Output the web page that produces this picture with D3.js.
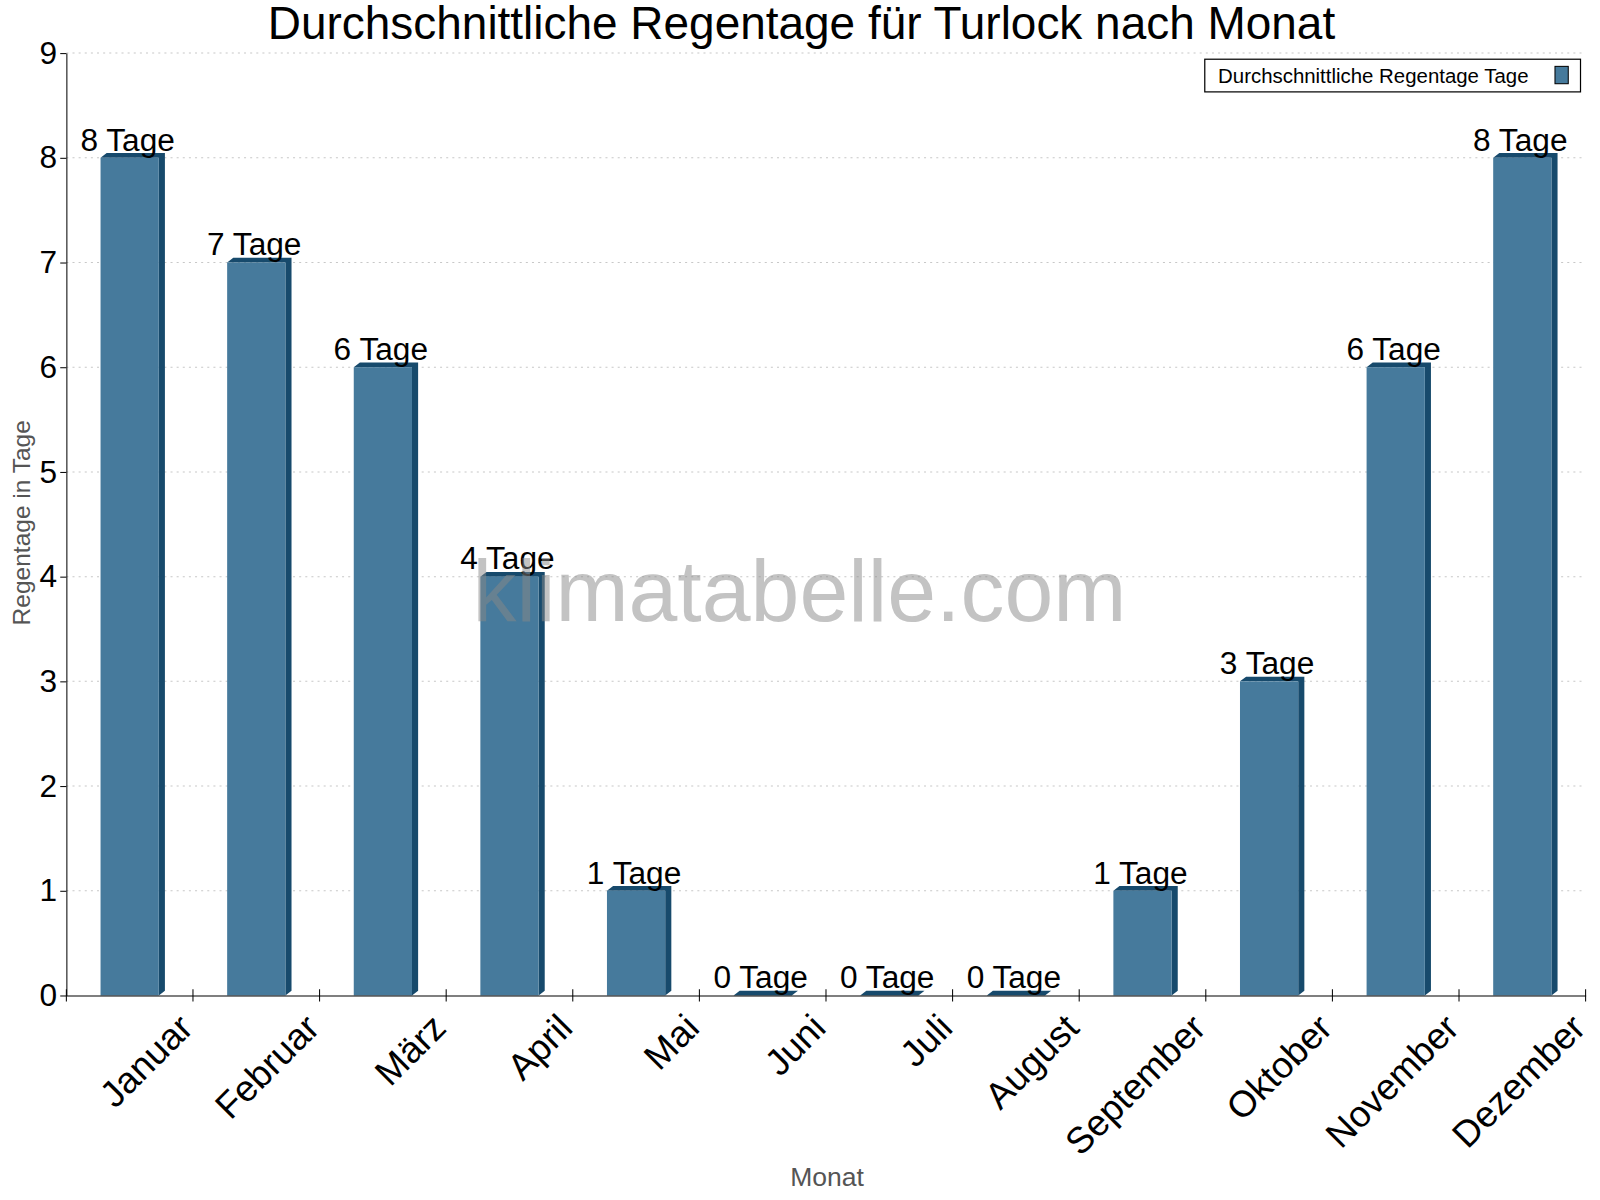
<!DOCTYPE html>
<html><head><meta charset="utf-8">
<script src="https://cdn.jsdelivr.net/npm/d3@7"></script>
<style>body{margin:0;background:#fff}text{font-family:"Liberation Sans",Arial,sans-serif}</style>
</head><body><svg id="c" width="1600" height="1200"></svg>
<script>
const months = ["Januar","Februar","März","April","Mai","Juni","Juli","August","September","Oktober","November","Dezember"];
const rainDays = [8,7,6,4,1,0,0,0,1,3,6,8];
const yTicks = [0,1,2,3,4,5,6,7,8,9];

const marginLeft = 65, marginRight = 1553, marginTop = 52, chartBottom = 975, depth = 6;
const svg = d3.select("#c").append("g").attr("transform", "scale(1.021)");
const x = d3.scaleBand().domain(months).range([marginLeft, marginRight]).paddingInner(0.54).paddingOuter(0.27);
const band = d3.scaleBand().domain(months).range([marginLeft, marginRight]);
const y = d3.scaleLinear().domain([0, 9]).range([chartBottom, marginTop]);

svg.append("g").selectAll("line").data(yTicks.slice(1)).join("line")
  .attr("x1", marginLeft).attr("x2", marginRight).attr("y1", d => y(d)).attr("y2", d => y(d))
  .attr("stroke", "#c8c8c8").attr("stroke-dasharray", "2,4");

const bars = svg.append("g");
months.forEach((m, i) => {
  const v = rainDays[i], x0 = x(m), w = x.bandwidth(), yt = y(v), d2 = depth / 1.3;
  bars.append("polygon").attr("fill", "#174a6c")
    .attr("points", `${x0},${yt} ${x0+depth},${yt-d2} ${x0+w+depth},${yt-d2} ${x0+w+depth},${chartBottom-d2} ${x0+w},${chartBottom} ${x0+w},${yt}`);
  bars.append("rect").attr("x", x0).attr("y", yt).attr("width", w).attr("height", chartBottom - yt).attr("fill", "#467a9c");
  svg.append("text").attr("x", band(m) + band.bandwidth()/2 - 2).attr("y", yt - 7)
    .attr("text-anchor", "middle").attr("font-size", 31).text(v + " Tage");
});

svg.append("text").attr("x", 783).attr("y", 608).attr("text-anchor", "middle").attr("font-size", 86)
  .attr("fill", "#888").attr("opacity", 0.5).text("klimatabelle.com");

const ya = svg.append("g").attr("transform", `translate(${marginLeft},0)`)
  .call(d3.axisLeft(y).tickValues(yTicks).tickSize(6).tickSizeOuter(0));
ya.selectAll("text").attr("font-size", 31).attr("fill", "#000");
ya.select(".domain").attr("stroke", "#000");

const xa = svg.append("g").attr("transform", `translate(0,${chartBottom})`)
  .call(d3.axisBottom(band).tickSize(0).tickFormat(""));
xa.select(".domain").attr("stroke", "#000");
xa.selectAll(".tk").data(d3.range(13)).join("line")
  .attr("x1", i => marginLeft + i*band.bandwidth()).attr("x2", i => marginLeft + i*band.bandwidth())
  .attr("y1", -6).attr("y2", 6).attr("stroke", "#000");
months.forEach(m => {
  const cx = band(m) + band.bandwidth()/2 + 46;
  svg.append("text").attr("transform", `translate(${cx},${chartBottom+16}) rotate(-45)`)
    .attr("text-anchor", "end").attr("dy", "0.7em").attr("font-size", 36).text(m);
});

svg.append("text").attr("x", 785).attr("y", 38).attr("text-anchor", "middle").attr("font-size", 45).text("Durchschnittliche Regentage für Turlock nach Monat");
svg.append("text").attr("x", 810).attr("y", 1162).attr("text-anchor", "middle").attr("font-size", 26).attr("fill", "#555").text("Monat");
svg.append("text").attr("transform", "translate(29,512) rotate(-90)").attr("text-anchor", "middle").attr("font-size", 24).attr("fill", "#555").text("Regentage in Tage");

svg.append("rect").attr("x", 1180).attr("y", 58).attr("width", 368).attr("height", 32).attr("fill", "#fff").attr("stroke", "#000").attr("stroke-width", 1.2);
svg.append("text").attr("x", 1193).attr("y", 81).attr("font-size", 20).text("Durchschnittliche Regentage Tage");
svg.append("rect").attr("x", 1523).attr("y", 65).attr("width", 13).attr("height", 17).attr("fill", "#467a9c").attr("stroke", "#000");
</script></body></html>
